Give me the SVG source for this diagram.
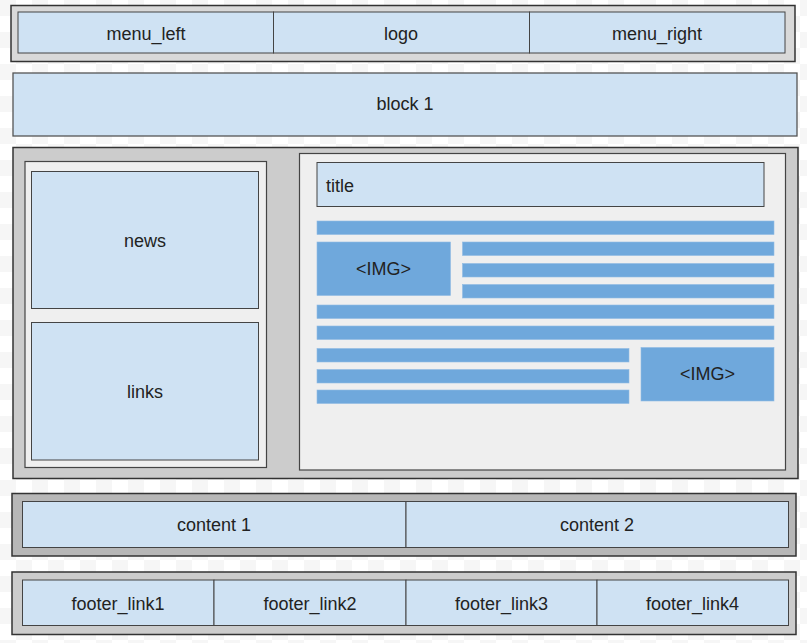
<svg xmlns="http://www.w3.org/2000/svg" width="807" height="643" viewBox="0 0 807 643">
<defs>
<pattern id="chk" x="0" y="0" width="32" height="32" patternUnits="userSpaceOnUse">
<rect width="32" height="32" fill="#ffffff"/>
<rect width="16" height="16" fill="#f6f6f6"/>
<rect x="16" y="16" width="16" height="16" fill="#f6f6f6"/>
</pattern>
<style>
.cont{stroke:#333;stroke-width:1.5}
.cell{fill:#cfe2f3;stroke:#444;stroke-width:1}
.panel{fill:#efefef;stroke:#444;stroke-width:1.2}
.bar{fill:#6fa8dc;stroke:#8fbbe3;stroke-width:0.6}
.t{font-family:"Liberation Sans",Arial,sans-serif;font-size:18px;fill:#222;text-anchor:middle}
.tl{font-family:"Liberation Sans",Arial,sans-serif;font-size:18px;fill:#222}
</style>
</defs>
<rect width="807" height="643" fill="url(#chk)"/>

<g id="header">
<rect class="cont" x="11" y="5.5" width="784" height="56" fill="#d9d9d9"/>
<g id="menu_left"><rect class="cell" x="18" y="12" width="255.5" height="41"/><text class="t" x="146" y="40">menu_left</text></g>
<g id="logo"><rect class="cell" x="273.5" y="12" width="256" height="41"/><text class="t" x="401" y="40">logo</text></g>
<g id="menu_right"><rect class="cell" x="529.5" y="12" width="255.5" height="41"/><text class="t" x="657" y="40">menu_right</text></g>
</g>

<g id="block1">
<rect x="13" y="73" width="784" height="63" fill="#cfe2f3" stroke="#555" stroke-width="1.3"/>
<text class="t" x="405" y="110">block 1</text>
</g>

<g id="main">
<rect class="cont" x="13" y="147.5" width="785" height="331" fill="#cccccc"/>
<g id="sidebar">
<rect class="panel" x="25" y="161.5" width="241.5" height="306"/>
<g id="news"><rect class="cell" x="31.5" y="171.5" width="227" height="137"/><text class="t" x="145" y="247">news</text></g>
<g id="links"><rect class="cell" x="31.5" y="322.5" width="227" height="137.5"/><text class="t" x="145" y="398">links</text></g>
</g>
<g id="article">
<rect class="panel" x="299.5" y="153.5" width="486" height="316.5"/>
<g id="title"><rect class="cell" x="317" y="162.5" width="447" height="44" stroke="#333"/><text class="tl" x="326" y="192">title</text></g>
<rect class="bar" x="317" y="221" width="457" height="13.5"/>
<g id="img1"><rect class="bar" x="317" y="242" width="133.5" height="53.5"/><text class="t" x="383.5" y="275">&lt;IMG&gt;</text></g>
<rect class="bar" x="462.5" y="242" width="311.5" height="13.5"/>
<rect class="bar" x="462.5" y="263.5" width="311.5" height="13.5"/>
<rect class="bar" x="462.5" y="284.5" width="311.5" height="13.5"/>
<rect class="bar" x="317" y="305" width="457" height="13.5"/>
<rect class="bar" x="317" y="326" width="457" height="13.5"/>
<rect class="bar" x="317" y="348.5" width="312" height="13.5"/>
<rect class="bar" x="317" y="369.5" width="312" height="13.5"/>
<rect class="bar" x="317" y="390" width="312" height="13.5"/>
<g id="img2"><rect class="bar" x="641" y="347.5" width="133" height="53.5"/><text class="t" x="707.5" y="380">&lt;IMG&gt;</text></g>
</g>
</g>

<g id="content">
<rect class="cont" x="12" y="493.5" width="784" height="62.5" fill="#b7b7b7"/>
<g id="content1"><rect class="cell" x="22.5" y="501.5" width="383.5" height="46"/><text class="t" x="214" y="531">content 1</text></g>
<g id="content2"><rect class="cell" x="406" y="501.5" width="382.5" height="46"/><text class="t" x="597" y="531">content 2</text></g>
</g>

<g id="footer">
<rect class="cont" x="12" y="572" width="784" height="62.5" fill="#cccccc"/>
<g id="footer_link1"><rect class="cell" x="22.5" y="580" width="191.5" height="45.5"/><text class="t" x="118" y="610">footer_link1</text></g>
<g id="footer_link2"><rect class="cell" x="214" y="580" width="192" height="45.5"/><text class="t" x="310" y="610">footer_link2</text></g>
<g id="footer_link3"><rect class="cell" x="406" y="580" width="191" height="45.5"/><text class="t" x="501.5" y="610">footer_link3</text></g>
<g id="footer_link4"><rect class="cell" x="597" y="580" width="191.5" height="45.5"/><text class="t" x="692.5" y="610">footer_link4</text></g>
</g>

<g id="connectors"/>
</svg>
